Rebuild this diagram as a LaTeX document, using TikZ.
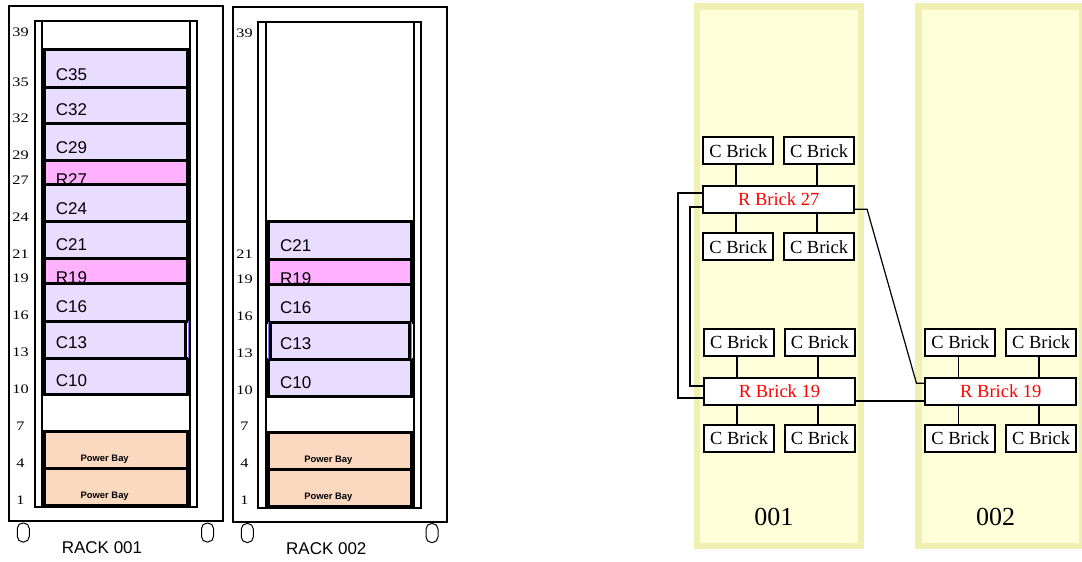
\documentclass[tikz,border=0pt]{standalone}
\usepackage{fontspec}
\setmainfont{Liberation Serif}
\newfontfamily\arialfont{Liberation Sans}
\usepackage{xcolor}
\usetikzlibrary{positioning,calc}
\definecolor{cmodcolor}{RGB}{233,221,255}
\definecolor{rmodcolor}{RGB}{255,176,255}
\definecolor{pbaycolor}{RGB}{250,217,192}
\definecolor{edgeviolet}{RGB}{150,110,240}
\definecolor{panelfill}{RGB}{255,255,217}
\definecolor{paneledge}{RGB}{240,240,178}

\begin{document}
\begin{tikzpicture}[x=1pt,y=-1pt,frame/.style={draw,line width=2pt},modc/.style={draw,line width=3pt,fill=cmodcolor},modr/.style={draw,line width=3pt,fill=rmodcolor},modp/.style={draw,line width=3pt,fill=pbaycolor},
modtxt/.style={anchor=base west,inner sep=0,font=\arialfont\fontsize{17}{17}\selectfont},baytxt/.style={inner sep=0,font=\arialfont\bfseries\fontsize{9.4}{10}\selectfont},
unum/.style={inner sep=0,xscale=1.25,font=\fontsize{13}{13}\selectfont},wheel/.style={draw,line width=1pt,rounded corners=5.5pt},racktxt/.style={inner sep=0,font=\arialfont\fontsize{17}{17}\selectfont},
panel/.style={draw=paneledge,fill=panelfill,line width=6.5pt,minimum width=164,minimum height=539.5,inner sep=0},paneltxt/.style={inner sep=0,font=\fontsize{26}{26}\selectfont},
cbrick/.style={draw,fill=white,line width=2pt,minimum width=70,minimum height=27,inner sep=0,font=\fontsize{18.5}{19}\selectfont},rbrick/.style={cbrick,minimum width=150.7,text=red},
link/.style={line width=1.8pt},slant/.style={line width=1.2pt}]
\useasboundingbox (0,0) rectangle (1082,562);
% rack 001
\draw[frame] (9.3,6) rectangle (222.7,520.7);
\draw[frame] (35,21) rectangle (197,507); \draw[frame] (41.7,21) rectangle (190,507);
\foreach \nm/\ya/\yb/\kind/\yt/\xr in {C35/49.3/87.3/c/80.5/187.5,C32/87.3/123.3/c/115.5/187.5,C29/123.3/160.7/c/153.5/187.5,R27/160.7/184/r/185.7/187.5,C24/184/221.3/c/214.5/187.5,C21/221.3/258.3/c/250.5/187.5,R19/258.3/283.3/r/283.3/187.5,C16/283.3/321/c/312.5/187.5,C13/321/358.3/c/348.8/185.3,C10/358.3/394/c/386.5/187.5}
{\path[mod\kind] (44,\ya) rectangle (\xr,\yb); \node[modtxt] (r1\nm) at (55.7,\yt) {\nm};}
\draw[line width=0.8pt,draw=edgeviolet] (188.5,321) -- (188.5,358.3);
\path[modp] (44,431.7) rectangle (187.5,468.3); \node[baytxt] (r1pb1) at (104.7,459) {Power Bay};
\path[modp] (44,468.3) rectangle (187.5,505); \node[baytxt] (r1pb2) at (104.7,496) {Power Bay};
\foreach \u in {39,35,32,29,27,24,21,19,16,13,10,7,4,1} \node[unum] (r1u\u) at (20.5,{500-(\u-1)*12.3}) {\u};
\draw[wheel] (17.3,523) rectangle (29.3,542); \draw[wheel] (201.5,523) rectangle (213.5,542);
\node[racktxt] (rack1) at (102,548) {RACK 001};
% rack 002
\begin{scope}[xshift=224pt]
\draw[frame] (9.3,6.7) rectangle (222.7,521.7);
\draw[frame] (34.3,22) rectangle (197,507.5); \draw[frame] (41.7,22) rectangle (189.5,507.5);
\foreach \nm/\ya/\yb/\kind/\yt/\xl/\xr in {C21/221.7/259.3/c/251.5/44/187,R19/259.3/284/r/284.3/44/187,C16/284/322/c/313.3/44/187,C13/322/359/c/349.5/46.3/185.5,C10/359/396/c/388/44/187}
{\path[mod\kind] (\xl,\ya) rectangle (\xr,\yb); \node[modtxt] (r2\nm) at (56,\yt) {\nm};}
\draw[line width=0.8pt,draw=edgeviolet] (44.5,322) -- (44.5,359) (187.8,322) -- (187.8,359);
\path[modp] (44,432.7) rectangle (187,469); \node[baytxt] (r2pb1) at (104.3,460) {Power Bay};
\path[modp] (44,469) rectangle (187,506.7); \node[baytxt] (r2pb2) at (104.3,497) {Power Bay};
\foreach \u in {39,21,19,16,13,10,7,4,1} \node[unum] (r2u\u) at (20.5,{500.5-(\u-1)*12.3}) {\u};
\draw[wheel] (17.3,523.5) rectangle (29.3,542.5); \draw[wheel] (202,523.5) rectangle (214,542.5);
\node[racktxt] (rack2) at (102.3,548.5) {RACK 002};
\end{scope}
% bricks
\node[panel] (p001) at (779,276.3) {}; \node[panel] (p002) at (1000.7,276.3) {};
\node[paneltxt] (n001) at (773.8,516.7) {001}; \node[paneltxt] (n002) at (995.5,516.7) {002};
\node[rbrick] (r27) at (778.7,199.2) {R Brick 27};
\node[cbrick,above=19.5pt of r27.north west,anchor=south west] (c27a) {C Brick}; \node[cbrick,above=19.5pt of r27.north east,anchor=south east] (c27b) {C Brick};
\node[cbrick,below=18.5pt of r27.south west,anchor=north west] (c27c) {C Brick}; \node[cbrick,below=18.5pt of r27.south east,anchor=north east] (c27d) {C Brick};
\node[rbrick] (r19a) at (779.5,391.3) {R Brick 19};
\node[cbrick,above=20pt of r19a.north west,anchor=south west] (c19a) {C Brick}; \node[cbrick,above=20pt of r19a.north east,anchor=south east] (c19b) {C Brick};
\node[cbrick,below=18pt of r19a.south west,anchor=north west] (c19c) {C Brick}; \node[cbrick,below=18pt of r19a.south east,anchor=north east] (c19d) {C Brick};
\node[rbrick] (r19b) at (1000.8,391.3) {R Brick 19};
\node[cbrick,above=20pt of r19b.north west,anchor=south west] (c19e) {C Brick}; \node[cbrick,above=20pt of r19b.north east,anchor=south east] (c19f) {C Brick};
\node[cbrick,below=18pt of r19b.south west,anchor=north west] (c19g) {C Brick}; \node[cbrick,below=18pt of r19b.south east,anchor=north east] (c19h) {C Brick};
\foreach \c/\r in {c27a/r27,c27b/r27,c19a/r19a,c19b/r19a,c19e/r19b,c19f/r19b} \draw[link] ([xshift=-2pt]\c.south) -- ([xshift=-2pt]\c.south |- \r.north);
\foreach \c/\r in {c27c/r27,c27d/r27,c19c/r19a,c19d/r19a,c19g/r19b,c19h/r19b} \draw[link] ([xshift=-2pt]\c.north) -- ([xshift=-2pt]\c.north |- \r.south);
\draw[link] ([yshift=6pt]r27.west) -- ++(-24,0) |- ([yshift=-7pt]r19a.west);
\draw[link] ([yshift=-8pt]r27.west) -- ++(-12,0) |- ([yshift=5pt]r19a.west);
\draw[slant] ([yshift=-10pt]r27.east) -- ++(12,0) -- ([xshift=-8pt,yshift=8pt]r19b.west) -- ([yshift=8pt]r19b.west);
\draw[link] ([yshift=-9.5pt]r19a.east) -- ([yshift=-9.5pt]r19a.east -| r19b.west);
\end{tikzpicture}
\end{document}
